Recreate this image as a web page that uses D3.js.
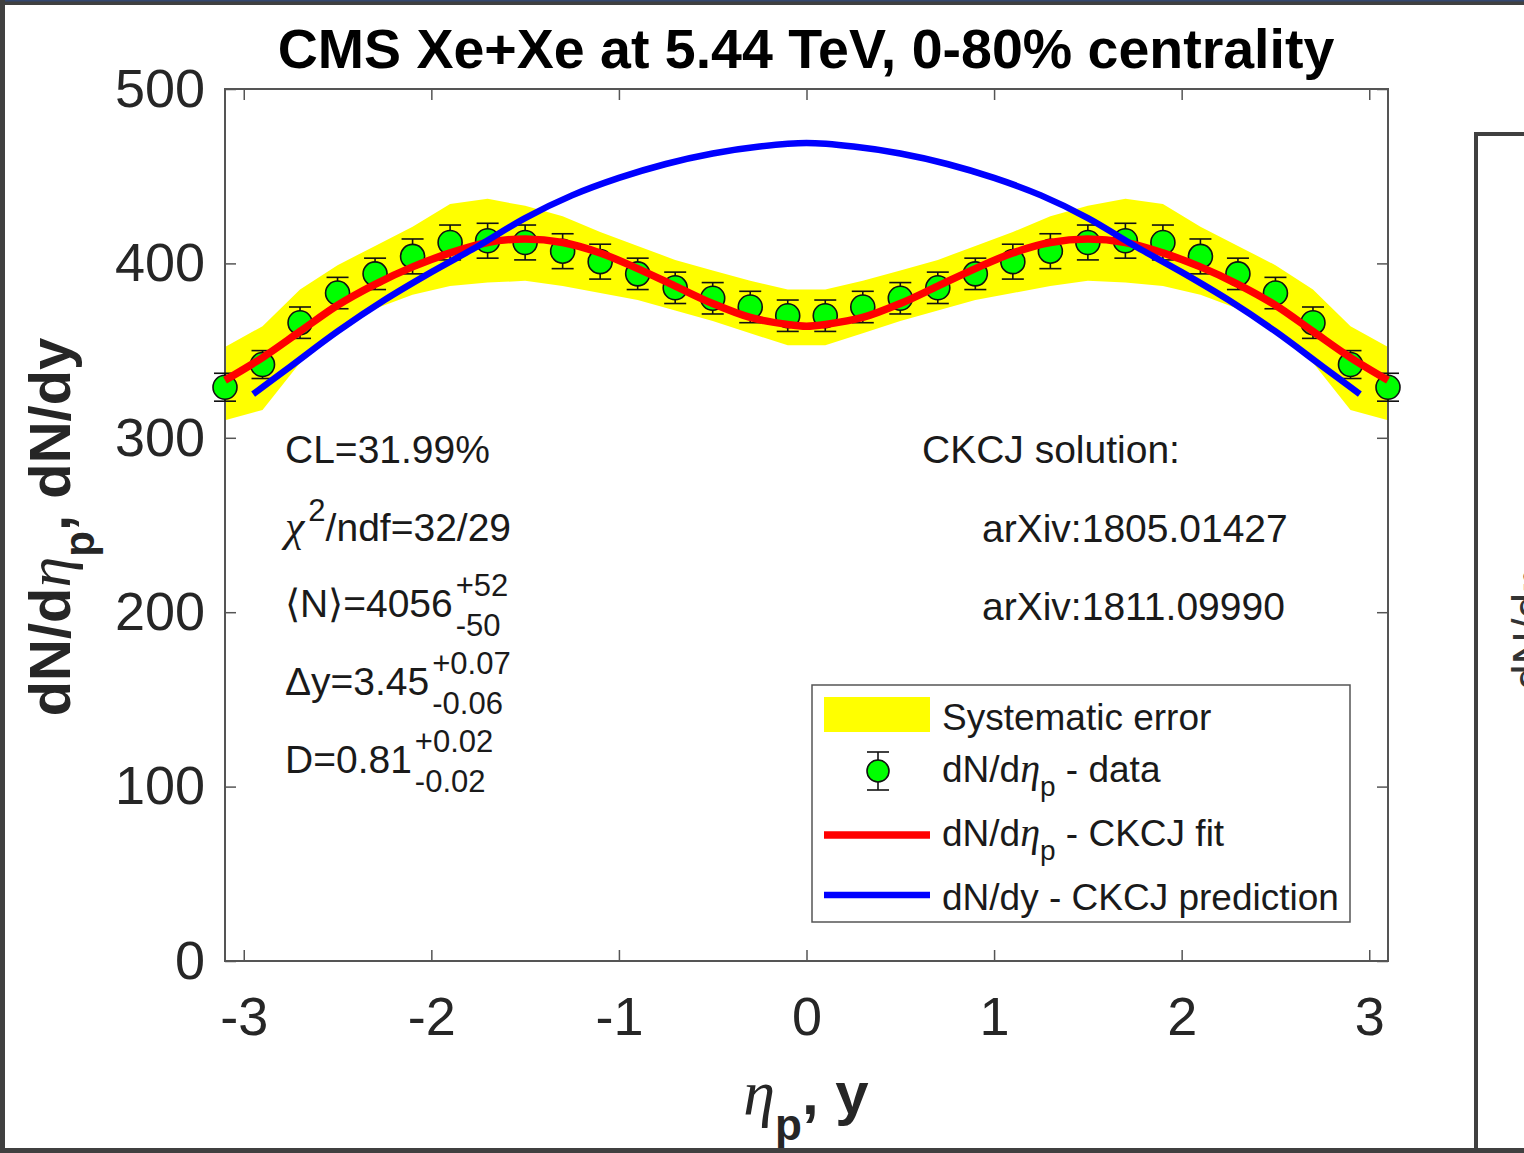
<!DOCTYPE html>
<html><head><meta charset="utf-8">
<script src="https://cdn.jsdelivr.net/npm/d3@7"></script>
<style>body{margin:0;background:#fff;} svg{display:block;}</style>
</head><body>
<svg id="chart" width="1524" height="1153"></svg>
<script>
// ---- data ----
const etaData = [-3.1,-2.9,-2.7,-2.5,-2.3,-2.1,-1.9,-1.7,-1.5,-1.3,-1.1,-0.9,-0.7,-0.5,-0.3,-0.1,
                 0.1,0.3,0.5,0.7,0.9,1.1,1.3,1.5,1.7,1.9,2.1,2.3,2.5,2.7,2.9,3.1];
const dNdEtaData = [329,342,366,383,394,404,412,413,412,407,401,394,386,380,375,370,
                    370,375,380,386,394,401,407,412,413,412,404,394,383,366,342,329];
const statErr = [8,8,9,9,9,10,10,10,10,10,10,9,9,9,9,9,
                 9,9,9,9,9,10,10,10,10,10,10,9,9,9,8,8];
const sysUpper = [352,364,385,399,410,421,434,437,433,427,418,410,402,396,390,385,
                  385,390,396,402,410,418,427,433,437,434,421,410,399,385,364,352];
const sysLower = [310,316,343,361,374,382,387,389,390,387,383,379,373,367,360,353,
                  353,360,367,373,379,383,387,390,389,387,382,374,361,343,316,310];
const etaFit = [-3.1,-2.9,-2.7,-2.5,-2.3,-2.1,-1.9,-1.7,-1.5,-1.3,-1.1,-0.9,-0.7,-0.5,-0.3,-0.1,0,
                0.1,0.3,0.5,0.7,0.9,1.1,1.3,1.5,1.7,1.9,2.1,2.3,2.5,2.7,2.9,3.1];
const fitVals = [333,346,361,376,388,398,406,412,414,412,406,397,387,377,369,365,364,
                 365,369,377,387,397,406,412,414,412,406,398,388,376,361,346,333];
const etaPred = [-2.95,-2.75,-2.5,-2.25,-2.0,-1.75,-1.5,-1.25,-1.0,-0.75,-0.5,-0.25,0,
                 0.25,0.5,0.75,1.0,1.25,1.5,1.75,2.0,2.25,2.5,2.75,2.95];
const predVals = [325,341,361,379,395,410,426,439,449,457,463,467,469,
                  467,463,457,449,439,426,410,395,379,361,341,325];
const xTicks = [-3,-2,-1,0,1,2,3];
const yTicks = [0,100,200,300,400,500];
const titleText = "CMS Xe+Xe at 5.44 TeV, 0-80% centrality";
const legendLabels = ["Systematic error","data","CKCJ fit","dN/dy - CKCJ prediction"];

// ---- drawing ----
const svg = d3.select('#chart');
const SANS = "'Liberation Sans', Arial, Helvetica, sans-serif";
const SERIF = "'Liberation Serif', 'Times New Roman', serif";
const x = d3.scaleLinear().domain([-3.1,3.1]).range([225,1388]);
const y = d3.scaleLinear().domain([0,500]).range([961,89]);

svg.append('rect').attr('width',1524).attr('height',1153).attr('fill','#fff');

// systematic band
const band = etaData.map((e,i)=>({e,u:sysUpper[i],l:sysLower[i]}));
svg.append('path').datum(band)
  .attr('d', d3.area().x(d=>x(d.e)).y0(d=>y(d.l)).y1(d=>y(d.u)))
  .attr('fill','#ffff00');

// axes
const axG = svg.append('g').attr('font-family',SANS);
const axBottom = axG.append('g').attr('transform','translate(0,961)')
  .call(d3.axisBottom(x).tickValues(xTicks).tickSizeInner(-11).tickSizeOuter(0).tickPadding(36).tickFormat(d=>d<0?'-'+Math.abs(d):d));
const axTop = axG.append('g').attr('transform','translate(0,89)')
  .call(d3.axisTop(x).tickValues(xTicks).tickSizeInner(-11).tickSizeOuter(0).tickFormat(''));
const axLeft = axG.append('g').attr('transform','translate(225,0)')
  .call(d3.axisLeft(y).tickValues(yTicks).tickSizeInner(-11).tickSizeOuter(0).tickPadding(20));
const axRight = axG.append('g').attr('transform','translate(1388,0)')
  .call(d3.axisRight(y).tickValues(yTicks).tickSizeInner(-11).tickSizeOuter(0).tickFormat(''));
[axBottom,axTop,axLeft,axRight].forEach(g=>{
  g.select('.domain').remove();
  g.selectAll('.tick line').attr('stroke','#555').attr('stroke-width',1.5);
  g.selectAll('.tick text').attr('font-size',54).attr('fill','#262626').attr('font-family',SANS);
});
svg.append('rect').attr('x',225).attr('y',89).attr('width',1163).attr('height',872)
  .attr('fill','none').attr('stroke','#555').attr('stroke-width',2);

// data points with error bars
const pts = etaData.map((e,i)=>({e,v:dNdEtaData[i],s:statErr[i]}));
const pg = svg.append('g');
const eb = pg.selectAll('g.eb').data(pts).join('g').attr('class','eb');
eb.append('line').attr('x1',d=>x(d.e)).attr('x2',d=>x(d.e)).attr('y1',d=>y(d.v-d.s)).attr('y2',d=>y(d.v+d.s));
eb.append('line').attr('x1',d=>x(d.e)-11).attr('x2',d=>x(d.e)+11).attr('y1',d=>y(d.v-d.s)).attr('y2',d=>y(d.v-d.s));
eb.append('line').attr('x1',d=>x(d.e)-11).attr('x2',d=>x(d.e)+11).attr('y1',d=>y(d.v+d.s)).attr('y2',d=>y(d.v+d.s));
eb.selectAll('line').attr('stroke','#111').attr('stroke-width',1.6);
pg.selectAll('circle').data(pts).join('circle')
  .attr('cx',d=>x(d.e)).attr('cy',d=>y(d.v)).attr('r',12)
  .attr('fill','#00ff00').attr('stroke','#111').attr('stroke-width',1.6);

// fit and prediction
const line = d3.line().x(d=>x(d[0])).y(d=>y(d[1])).curve(d3.curveCatmullRom.alpha(0.5));
svg.append('path').attr('d', line(etaFit.map((e,i)=>[e,fitVals[i]])))
  .attr('fill','none').attr('stroke','#ff0000').attr('stroke-width',7.5);
svg.append('path').attr('d', line(etaPred.map((e,i)=>[e,predVals[i]])))
  .attr('fill','none').attr('stroke','#0000ff').attr('stroke-width',6.5);

// title
svg.append('text').attr('x',806).attr('y',68).attr('text-anchor','middle')
  .attr('font-family',SANS).attr('font-weight','bold').attr('font-size',55.5).attr('fill','#000')
  .text(titleText);

// x label
const xl = svg.append('text').attr('x',806).attr('y',1114).attr('text-anchor','middle')
  .attr('font-family',SANS).attr('font-weight','bold').attr('font-size',60).attr('fill','#262626');
xl.append('tspan').attr('font-family',SERIF).attr('font-style','italic').attr('font-weight','normal').attr('font-size',64).text('η');
xl.append('tspan').attr('font-size',44).attr('dy',26).text('p');
xl.append('tspan').attr('dy',-26).text(', y');

// y label
const yl = svg.append('text').attr('transform','translate(70,527) rotate(-90)').attr('text-anchor','middle')
  .attr('font-family',SANS).attr('font-weight','bold').attr('font-size',58).attr('fill','#262626');
yl.append('tspan').text('dN/d');
yl.append('tspan').attr('font-family',SERIF).attr('font-style','italic').attr('font-weight','normal').attr('font-size',62).text('η');
yl.append('tspan').attr('font-size',42).attr('dy',24).text('p');
yl.append('tspan').attr('dy',-24).text(', dN/dy');

// annotations (left)
const ann = svg.append('g').attr('font-family',SANS).attr('font-size',39).attr('fill','#1a1a1a');
ann.append('text').attr('x',285).attr('y',463).text('CL=31.99%');
const chi = ann.append('text').attr('x',285).attr('y',541);
chi.append('tspan').attr('font-family',SERIF).attr('font-style','italic').attr('font-size',44).text('χ');
chi.append('tspan').attr('font-size',31).attr('dy',-20).attr('dx',4).text('2');
chi.append('tspan').attr('dy',20).text('/ndf=32/29');
function withErrors(yb, main, up, dn){
  const t = ann.append('text').attr('x',285).attr('y',yb).text(main);
  const w = t.node().getComputedTextLength();
  ann.append('text').attr('x',285+w+3).attr('y',yb-21).attr('font-size',31).text(up);
  ann.append('text').attr('x',285+w+3).attr('y',yb+19).attr('font-size',31).text(dn);
}
withErrors(617,'⟨N⟩=4056','+52','-50');
withErrors(695,'Δy=3.45','+0.07','-0.06');
withErrors(773,'D=0.81','+0.02','-0.02');

// annotations (right)
ann.append('text').attr('x',922).attr('y',463).attr('font-size',39).text('CKCJ solution:');
ann.append('text').attr('x',982).attr('y',542).attr('font-size',39).text('arXiv:1805.01427');
ann.append('text').attr('x',982).attr('y',620).attr('font-size',39).text('arXiv:1811.09990');

// legend
const lg = svg.append('g').attr('font-family',SANS).attr('font-size',37).attr('fill','#1a1a1a');
lg.append('rect').attr('x',812).attr('y',685).attr('width',538).attr('height',237)
  .attr('fill','#fff').attr('stroke','#555').attr('stroke-width',1.5);
lg.append('rect').attr('x',824).attr('y',697).attr('width',106).attr('height',35).attr('fill','#ffff00');
lg.append('text').attr('x',942).attr('y',730).text(legendLabels[0]);
// data marker
lg.append('line').attr('x1',878).attr('x2',878).attr('y1',752).attr('y2',790).attr('stroke','#111').attr('stroke-width',1.6);
lg.append('line').attr('x1',867).attr('x2',889).attr('y1',752).attr('y2',752).attr('stroke','#111').attr('stroke-width',1.6);
lg.append('line').attr('x1',867).attr('x2',889).attr('y1',790).attr('y2',790).attr('stroke','#111').attr('stroke-width',1.6);
lg.append('circle').attr('cx',878).attr('cy',771).attr('r',11).attr('fill','#00ff00').attr('stroke','#111').attr('stroke-width',1.6);
function etaLabel(yb, suffix){
  const t = lg.append('text').attr('x',942).attr('y',yb);
  t.append('tspan').text('dN/d');
  t.append('tspan').attr('font-family',SERIF).attr('font-style','italic').attr('font-size',40).text('η');
  t.append('tspan').attr('font-size',28).attr('dy',14).text('p');
  t.append('tspan').attr('dy',-14).text(' - '+suffix);
}
etaLabel(782, legendLabels[1]);
lg.append('line').attr('x1',824).attr('x2',930).attr('y1',835).attr('y2',835).attr('stroke','#ff0000').attr('stroke-width',7.5);
etaLabel(846, legendLabels[2]);
lg.append('line').attr('x1',824).attr('x2',930).attr('y1',895).attr('y2',895).attr('stroke','#0000ff').attr('stroke-width',6.5);
lg.append('text').attr('x',942).attr('y',910).text(legendLabels[3]);

// screenshot frame and neighbouring panel edge
const fr = svg.append('g').attr('fill','#404040');
fr.append('rect').attr('x',0).attr('y',0).attr('width',1524).attr('height',5);
fr.append('rect').attr('x',0).attr('y',0).attr('width',1524).attr('height',1.5).attr('fill','#34476e');
fr.append('rect').attr('x',0).attr('y',0).attr('width',5).attr('height',1153);
fr.append('rect').attr('x',0).attr('y',1148).attr('width',1524).attr('height',5);
fr.append('rect').attr('x',1474).attr('y',132).attr('width',4).attr('height',1021);
fr.append('rect').attr('x',1474).attr('y',132).attr('width',50).attr('height',4);
const yl2 = svg.append('text').attr('transform','translate(1545,690) rotate(-90)').attr('text-anchor','start')
  .attr('font-family',SANS).attr('font-size',46).attr('fill','#333');
yl2.append('tspan').text('dN/d');
yl2.append('tspan').attr('font-family',SERIF).attr('font-style','italic').text('η');
yl2.append('tspan').attr('font-size',32).attr('dy',18).text('p');
</script>
</body></html>
